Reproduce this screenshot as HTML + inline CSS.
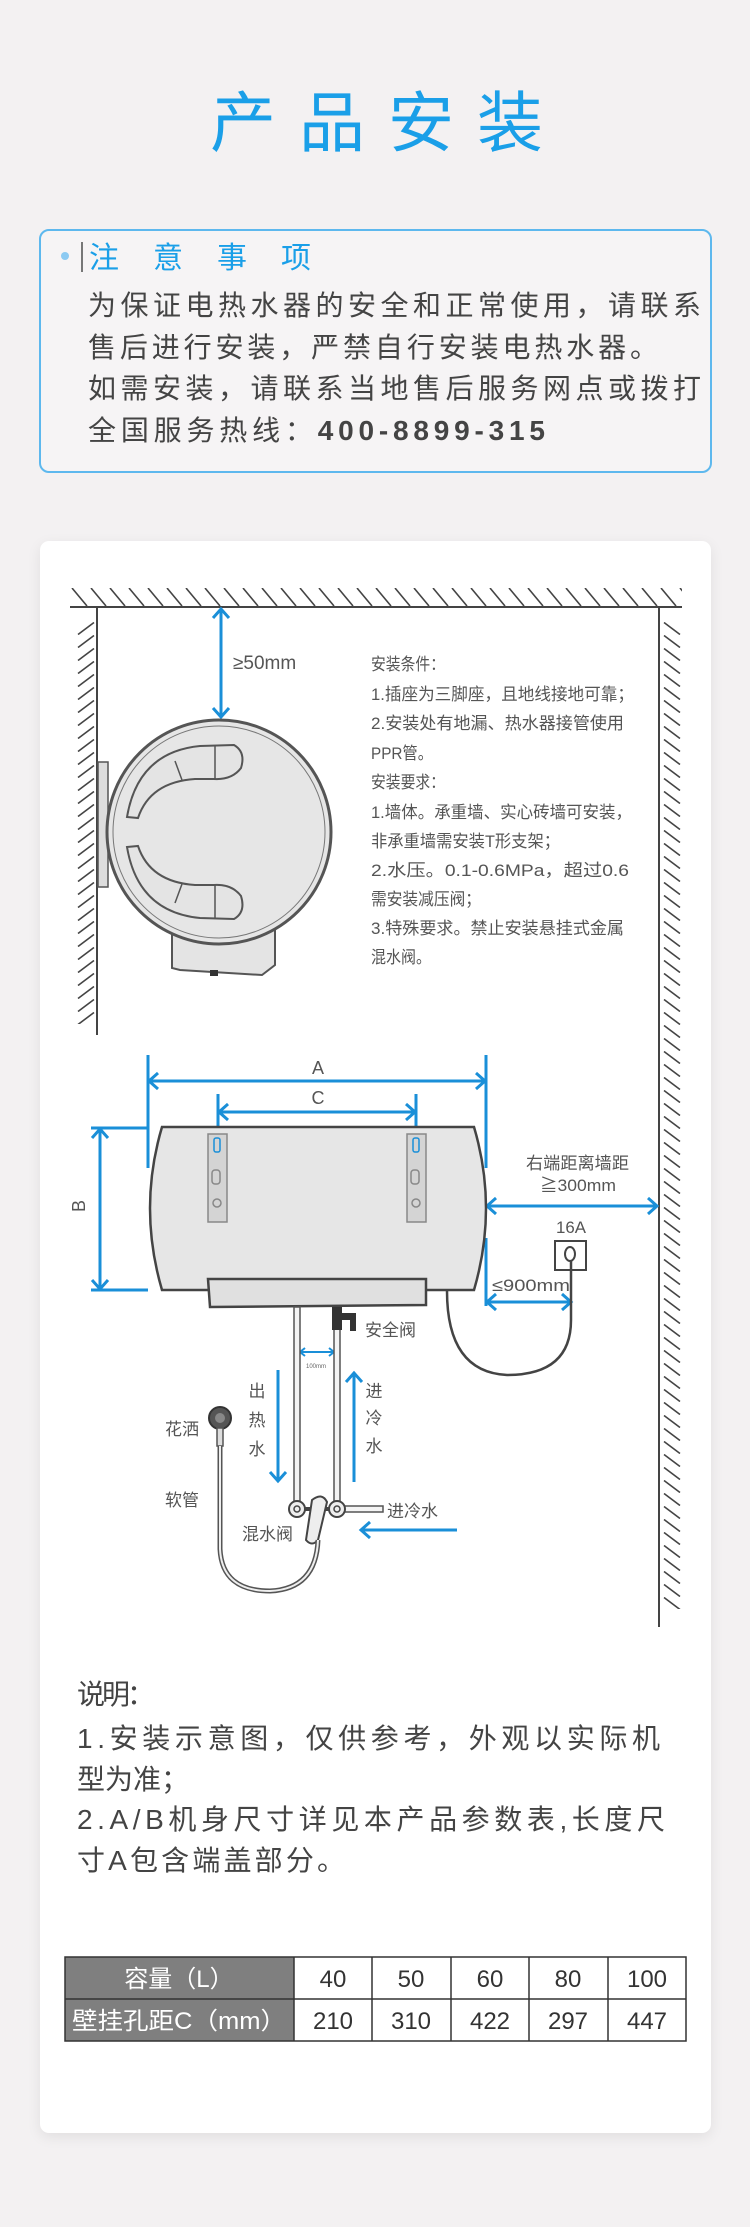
<!DOCTYPE html>
<html><head><meta charset="utf-8">
<style>
html,body{margin:0;padding:0;background:#f3f1f2;}
body{width:750px;height:2227px;position:relative;overflow:hidden;}
.card{position:absolute;left:40px;top:541px;width:671px;height:1592px;background:#fff;border-radius:9px;box-shadow:0 4px 14px rgba(0,0,0,0.08);}
svg{position:absolute;left:0;top:0;}
text{font-family:"Liberation Sans","Noto Sans CJK SC",sans-serif;}
</style></head><body>
<div class="card"></div>
<svg width="750" height="2227" viewBox="0 0 750 2227" xmlns="http://www.w3.org/2000/svg">
<defs>
<pattern id="hc" patternUnits="userSpaceOnUse" x="70" y="588" width="19" height="18"><line x1="2" y1="0" x2="17" y2="18" stroke="#444" stroke-width="1.6"/></pattern>
<pattern id="hl" patternUnits="userSpaceOnUse" x="77" y="622" width="18" height="13"><line x1="1" y1="12.5" x2="17" y2="0.5" stroke="#444" stroke-width="1.6"/></pattern>
<pattern id="hr" patternUnits="userSpaceOnUse" x="663" y="622" width="18" height="13"><line x1="1" y1="0.5" x2="17" y2="12.5" stroke="#444" stroke-width="1.6"/></pattern>
</defs>

<!-- Title -->
<text x="210" y="146" font-size="66" fill="#1a9fe8" textLength="333" lengthAdjust="spacing">产品安装</text>

<!-- Notice box -->
<rect x="40" y="230" width="671" height="242" rx="9" fill="#f6f4f5" stroke="#5db8ee" stroke-width="2"/>
<circle cx="65" cy="256" r="4" fill="#8ccaf2"/>
<line x1="82" y1="242" x2="82" y2="272" stroke="#777" stroke-width="2"/>
<text x="89" y="268" font-size="30" fill="#1a9fe8" textLength="222" lengthAdjust="spacing">注意事项</text>
<g font-size="28" fill="#444">
<text x="88" y="315" textLength="613" lengthAdjust="spacing">为保证电热水器的安全和正常使用，请联系</text>
<text x="88" y="357" textLength="570" lengthAdjust="spacing">售后进行安装，严禁自行安装电热水器。</text>
<text x="88" y="398" textLength="613" lengthAdjust="spacing">如需安装，请联系当地售后服务网点或拨打</text>
<text x="88" y="440" textLength="457" lengthAdjust="spacing">全国服务热线：<tspan font-weight="bold">400-8899-315</tspan></text>
</g>

<!-- Walls -->
<rect x="70" y="588" width="612" height="18" fill="url(#hc)"/>
<line x1="70" y1="607" x2="682" y2="607" stroke="#444" stroke-width="2"/>
<rect x="77" y="622" width="18" height="402" fill="url(#hl)"/>
<line x1="97" y1="607" x2="97" y2="1035" stroke="#444" stroke-width="2"/>
<rect x="663" y="622" width="18" height="987" fill="url(#hr)"/>
<line x1="659" y1="607" x2="659" y2="1627" stroke="#444" stroke-width="2"/>

<g fill="none" stroke="#1a8fd8" stroke-width="3">
<line x1="221" y1="609" x2="221" y2="717"/>
<polyline points="213,618 221,609 229,618"/><polyline points="213,708 221,717 229,708"/>
<line x1="148" y1="1055" x2="148" y2="1168"/><line x1="486" y1="1055" x2="486" y2="1168"/>
<line x1="149" y1="1081" x2="485" y2="1081"/>
<polyline points="158,1073 149,1081 158,1089"/><polyline points="476,1073 485,1081 476,1089"/>
<line x1="218" y1="1094" x2="218" y2="1141"/><line x1="416" y1="1094" x2="416" y2="1141"/>
<line x1="219" y1="1112" x2="415" y2="1112"/>
<polyline points="228,1104 219,1112 228,1120"/><polyline points="406,1104 415,1112 406,1120"/>
<line x1="91" y1="1128" x2="148" y2="1128"/><line x1="91" y1="1290" x2="148" y2="1290"/>
<line x1="100" y1="1129" x2="100" y2="1289"/>
<polyline points="92,1138 100,1129 108,1138"/><polyline points="92,1280 100,1289 108,1280"/>
<line x1="486" y1="1238" x2="486" y2="1306"/>
<line x1="487" y1="1206" x2="657" y2="1206"/>
<polyline points="496,1198 487,1206 496,1214"/><polyline points="648,1198 657,1206 648,1214"/>
<line x1="487" y1="1302" x2="571" y2="1302"/>
<polyline points="496,1294 487,1302 496,1310"/><polyline points="562,1294 571,1302 562,1310"/>
<line x1="300" y1="1352" x2="334" y2="1352" stroke-width="2"/>
<polyline points="305,1348 300,1352 305,1356" stroke-width="2"/><polyline points="329,1348 334,1352 329,1356" stroke-width="2"/>
<line x1="278" y1="1370" x2="278" y2="1481"/><polyline points="270,1472 278,1481 286,1472"/>
<line x1="354" y1="1482" x2="354" y2="1373"/><polyline points="346,1382 354,1373 362,1382"/>
<line x1="361" y1="1530" x2="457" y2="1530"/><polyline points="370,1522 361,1530 370,1538"/>
</g>

<text x="233" y="669" font-size="19" fill="#555">≥50mm</text>

<rect x="98" y="762" width="10" height="125" fill="#ddd" stroke="#555" stroke-width="1.5"/>
<path d="M172,930 L275,928 L275,965 L262,975 L180,970 L172,968 Z" fill="#e4e4e4" stroke="#555" stroke-width="2"/>
<rect x="210" y="970" width="8" height="6" fill="#333"/>
<circle cx="219" cy="832" r="112" fill="#e6e6e6" stroke="#555" stroke-width="3"/>
<circle cx="219" cy="832" r="106" fill="none" stroke="#777" stroke-width="1"/>
<path d="M127,817 Q138,752 200,746 L234,745 Q246,752 241,768 Q232,780 214,779 L195,779 Q150,782 138,818 Z" fill="#e4e4e4" stroke="#555" stroke-width="2"/>
<path d="M127,847 Q138,912 200,918 L234,919 Q246,912 241,896 Q232,884 214,885 L195,885 Q150,882 138,846 Z" fill="#e4e4e4" stroke="#555" stroke-width="2"/>
<line x1="175" y1="761" x2="182" y2="780" stroke="#555" stroke-width="1.5"/>
<line x1="215" y1="746" x2="215" y2="779" stroke="#555" stroke-width="1.5"/>
<line x1="175" y1="903" x2="182" y2="884" stroke="#555" stroke-width="1.5"/>
<line x1="215" y1="918" x2="215" y2="885" stroke="#555" stroke-width="1.5"/>

<g font-size="17" fill="#555">
<text x="371" y="670" textLength="74" lengthAdjust="spacingAndGlyphs">安装条件：</text>
<text x="371" y="700" textLength="263" lengthAdjust="spacingAndGlyphs">1.插座为三脚座，且地线接地可靠；</text>
<text x="371" y="729" textLength="253" lengthAdjust="spacingAndGlyphs">2.安装处有地漏、热水器接管使用</text>
<text x="371" y="759" textLength="62" lengthAdjust="spacingAndGlyphs">PPR管。</text>
<text x="371" y="788" textLength="74" lengthAdjust="spacingAndGlyphs">安装要求：</text>
<text x="371" y="818" textLength="261" lengthAdjust="spacingAndGlyphs">1.墙体。承重墙、实心砖墙可安装，</text>
<text x="371" y="847" textLength="189" lengthAdjust="spacingAndGlyphs">非承重墙需安装T形支架；</text>
<text x="371" y="876" textLength="258" lengthAdjust="spacingAndGlyphs">2.水压。0.1-0.6MPa，超过0.6</text>
<text x="371" y="905" textLength="110" lengthAdjust="spacingAndGlyphs">需安装减压阀；</text>
<text x="371" y="934" textLength="253" lengthAdjust="spacingAndGlyphs">3.特殊要求。禁止安装悬挂式金属</text>
<text x="371" y="963" textLength="60" lengthAdjust="spacingAndGlyphs">混水阀。</text>
</g>

<text x="318" y="1074" font-size="18" fill="#555" text-anchor="middle">A</text>
<text x="318" y="1104" font-size="18" fill="#555" text-anchor="middle">C</text>
<text x="0" y="0" font-size="18" fill="#555" text-anchor="middle" transform="translate(85,1206) rotate(-90)">B</text>

<path d="M162,1127 L474,1127 Q498,1208 474,1290 L162,1290 Q138,1208 162,1127 Z" fill="#e6e6e6" stroke="#444" stroke-width="2.5"/>
<g fill="#d4d4d4" stroke="#888" stroke-width="1.5">
<rect x="208" y="1134" width="19" height="88"/><rect x="407" y="1134" width="19" height="88"/>
</g>
<g fill="none" stroke="#888" stroke-width="1.5">
<rect x="214" y="1138" width="6" height="14" rx="2" stroke="#1a8fd8"/><rect x="413" y="1138" width="6" height="14" rx="2" stroke="#1a8fd8"/>
<rect x="212" y="1170" width="8" height="14" rx="3"/><rect x="411" y="1170" width="8" height="14" rx="3"/>
<circle cx="217" cy="1203" r="4"/><circle cx="416" cy="1203" r="4"/>
</g>
<path d="M208,1279 L426,1279 L426,1305 L210,1307 Z" fill="#e0e0e0" stroke="#444" stroke-width="2.5"/>

<g font-size="17" fill="#555">
<text x="526" y="1169" textLength="103" lengthAdjust="spacingAndGlyphs">右端距离墙距</text>
<text x="540" y="1191" textLength="76" lengthAdjust="spacingAndGlyphs">≧300mm</text>
<text x="556" y="1233" textLength="30" lengthAdjust="spacingAndGlyphs">16A</text>
<text x="492" y="1291" textLength="78" lengthAdjust="spacingAndGlyphs">≤900mm</text>
</g>
<rect x="555" y="1241" width="31" height="29" fill="#fff" stroke="#444" stroke-width="2"/>
<ellipse cx="570" cy="1254" rx="5" ry="7" fill="none" stroke="#444" stroke-width="2"/>
<path d="M571,1261 L571,1320 Q571,1375 507,1375 Q447,1372 447,1291" fill="none" stroke="#444" stroke-width="2.5"/>

<g fill="#f4f4f4" stroke="#555" stroke-width="1.5">
<rect x="294" y="1307" width="6" height="200"/>
<rect x="334" y="1320" width="6" height="187"/>
<rect x="337" y="1506" width="46" height="6"/>
</g>
<path d="M332,1307 L342,1307 L342,1330 L332,1330 Z M342,1313 L356,1313 L356,1331 L350,1331 L350,1320 L342,1320 Z" fill="#333"/>
<text x="365" y="1336" font-size="17" fill="#555">安全阀</text>
<text x="316" y="1368" font-size="6" fill="#666" text-anchor="middle">100mm</text>

<g font-size="17" fill="#555" text-anchor="middle">
<text x="257" y="1397">出</text><text x="257" y="1426">热</text><text x="257" y="1455">水</text>
<text x="374" y="1397">进</text><text x="374" y="1424">冷</text><text x="374" y="1452">水</text>
</g>
<text x="387" y="1517" font-size="17" fill="#555">进冷水</text>

<circle cx="297" cy="1509" r="8" fill="#eee" stroke="#444" stroke-width="2"/>
<circle cx="297" cy="1509" r="3" fill="none" stroke="#444" stroke-width="1.5"/>
<circle cx="337" cy="1509" r="8" fill="#eee" stroke="#444" stroke-width="2"/>
<circle cx="337" cy="1509" r="3" fill="none" stroke="#444" stroke-width="1.5"/>
<line x1="305" y1="1509" x2="329" y2="1509" stroke="#444" stroke-width="4"/>
<path d="M312,1500 Q322,1492 327,1502 L318,1540 Q312,1547 306,1540 Z" fill="#eee" stroke="#444" stroke-width="2"/>

<circle cx="220" cy="1418" r="11" fill="#555" stroke="#333" stroke-width="2"/>
<circle cx="220" cy="1418" r="5" fill="#888"/>
<rect x="217" y="1428" width="6" height="18" fill="#ddd" stroke="#555" stroke-width="1.5"/>
<path d="M220,1446 L220,1549 Q222,1591 270,1591 Q316,1589 318,1540" fill="none" stroke="#555" stroke-width="5"/>
<path d="M220,1446 L220,1549 Q222,1591 270,1591 Q316,1589 318,1540" fill="none" stroke="#eee" stroke-width="2"/>
<g font-size="17" fill="#555">
<text x="165" y="1435">花洒</text>
<text x="165" y="1506">软管</text>
<text x="242" y="1540">混水阀</text>
</g>

<g font-size="28" fill="#444">
<text x="77" y="1704" textLength="78" lengthAdjust="spacing">说明：</text>
<text x="77" y="1748" textLength="583" lengthAdjust="spacing">1.安装示意图，仅供参考，外观以实际机</text>
<text x="77" y="1789" textLength="112" lengthAdjust="spacing">型为准；</text>
<text x="77" y="1829" textLength="588" lengthAdjust="spacing">2.A/B机身尺寸详见本产品参数表,长度尺</text>
<text x="77" y="1870" textLength="268" lengthAdjust="spacing">寸A包含端盖部分。</text>
</g>

<rect x="65" y="1957" width="229" height="84" fill="#7f7f7f"/>
<g fill="none" stroke="#333" stroke-width="1.5">
<rect x="65" y="1957" width="621" height="84"/>
<line x1="65" y1="1999" x2="686" y2="1999"/>
<line x1="294" y1="1957" x2="294" y2="2041"/>
<line x1="372" y1="1957" x2="372" y2="2041"/>
<line x1="451" y1="1957" x2="451" y2="2041"/>
<line x1="529" y1="1957" x2="529" y2="2041"/>
<line x1="608" y1="1957" x2="608" y2="2041"/>
</g>
<g font-size="24" fill="#fff" text-anchor="middle">
<text x="179" y="1987">容量（L）</text>
<text x="179" y="2029" textLength="214" lengthAdjust="spacingAndGlyphs">壁挂孔距C（mm）</text>
</g>
<g font-size="24" fill="#333" text-anchor="middle">
<text x="333" y="1987">40</text><text x="411" y="1987">50</text><text x="490" y="1987">60</text><text x="568" y="1987">80</text><text x="647" y="1987">100</text>
<text x="333" y="2029">210</text><text x="411" y="2029">310</text><text x="490" y="2029">422</text><text x="568" y="2029">297</text><text x="647" y="2029">447</text>
</g>
</svg>
</body></html>
